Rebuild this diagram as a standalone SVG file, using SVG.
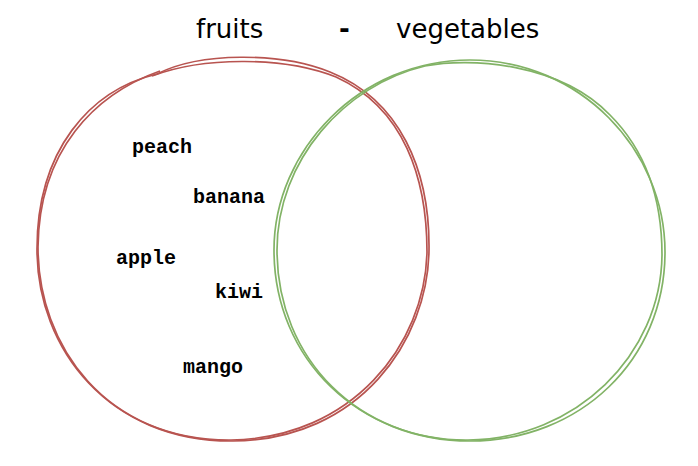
<svg xmlns="http://www.w3.org/2000/svg" width="698" height="466" viewBox="0 0 698 466">
<style>
.title{font-family:"DejaVu Sans",sans-serif;font-size:26px;fill:#000}
.item{font-family:"Liberation Mono","Courier New",monospace;font-weight:bold;font-size:20px;fill:#000}
.red{fill:none;stroke:#b85450;stroke-width:1.7}
.green{fill:none;stroke:#82b366;stroke-width:1.7}
</style>
<rect width="698" height="466" fill="#fff"/>
<g id="fruits-circle">
<path class="red" d="M157,74 C200,52 280,52 330,72 C400,100 430,170 429,250 C428,340 360,440 233,441 C110,442 37,350 37,249 C37,150 90,90 157,74 Z"/>
<path class="red" d="M152,76 C205,56 285,57 336,77 C404,108 427,178 427,252 C425,345 352,438 231,440 C106,441 38,346 38,247 C39,150 95,94 160,71"/>
</g>
<g id="vegetables-circle">
<path class="green" d="M470,60 C580,60 665,150 665,252 C665,360 580,441 470,441 C360,441 274,360 274,250 C274,150 360,60 470,60 Z"/>
<path class="green" d="M425,66 C470,57 560,63 610,115 C650,155 662,205 662,255 C661,355 576,439 468,440 C360,441 277,360 277,250 C277,160 345,85 425,66"/>
</g>
<g id="labels">
<text class="title" x="196" y="38">fruits</text>
<text class="title" x="339" y="38" font-weight="bold">-</text>
<text class="title" x="396" y="38">vegetables</text>
<text class="item" x="132" y="153">peach</text>
<text class="item" x="193" y="203">banana</text>
<text class="item" x="116" y="264">apple</text>
<text class="item" x="215" y="298">kiwi</text>
<text class="item" x="183" y="373">mango</text>
</g>
</svg>
